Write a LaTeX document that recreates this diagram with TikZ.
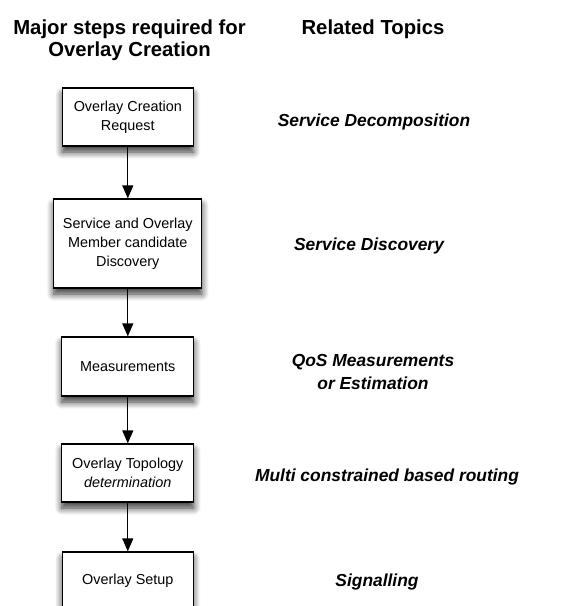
\documentclass[tikz,border=0pt]{standalone}
\usepackage{fontspec}
\setmainfont{Liberation Sans}
\usetikzlibrary{arrows.meta,shadows.blur}

\tikzset{
  stepbox/.style={draw=black, line width=1.3pt, fill=white, align=center,
    inner sep=0pt, font=\fontsize{14.4}{19}\selectfont,
    blur shadow={shadow xshift=0pt, shadow yshift=-6pt,
      shadow blur radius=7pt, shadow blur steps=8, shadow opacity=80}},
  heading/.style={font=\fontsize{20.3}{21.7}\selectfont\bfseries, align=center, inner sep=0pt, anchor=base},
  topic/.style={font=\fontsize{17.4}{22.6}\selectfont\bfseries\itshape, align=center, inner sep=0pt, anchor=base},
  flow/.style={line width=1.3pt, -{Triangle[length=13pt,width=11pt]}}
}

\begin{document}
\begin{tikzpicture}[x=1pt,y=-1pt]
  \useasboundingbox (0,0) rectangle (570,606);
  \clip (0,0) rectangle (570,606);

  % column headings (base anchor sits on the last line)
  \node[heading] (h1) at (129.5,56.3) {Major steps required for\\Overlay Creation};
  \node[heading] (h2) at (373,34.5) {Related Topics};

  % the steps
  \node[stepbox, minimum width=131pt, minimum height=58pt] (s1) at (127.8,117)
    {Overlay Creation\\Request};
  \node[stepbox, minimum width=148pt, minimum height=89pt] (s2) at (127.8,243.5)
    {Service and Overlay\\Member candidate\\Discovery};
  \node[stepbox, minimum width=132pt, minimum height=59pt] (s3) at (127.8,366.5)
    {Measurements};
  \node[stepbox, minimum width=132pt, minimum height=58pt] (s4) at (127.8,473)
    {Overlay Topology\\\textit{determination}};
  \node[stepbox, minimum width=131pt, minimum height=58pt] (s5) at (127.8,581)
    {Overlay Setup};

  % connectors
  \draw[flow] (s1.south) -- (s2.north);
  \draw[flow] (s2.south) -- (s3.north);
  \draw[flow] (s3.south) -- (s4.north);
  \draw[flow] (s4.south) -- (s5.north);

  % related topics
  \node[topic] (t1) at (374,126) {Service Decomposition};
  \node[topic] (t2) at (369,250) {Service Discovery};
  \node[topic] (t3) at (373,389.3) {QoS Measurements\\or Estimation};
  \node[topic] (t4) at (387,481.7) {Multi constrained based routing};
  \node[topic] (t5) at (377,586.7) {Signalling};
\end{tikzpicture}
\end{document}
